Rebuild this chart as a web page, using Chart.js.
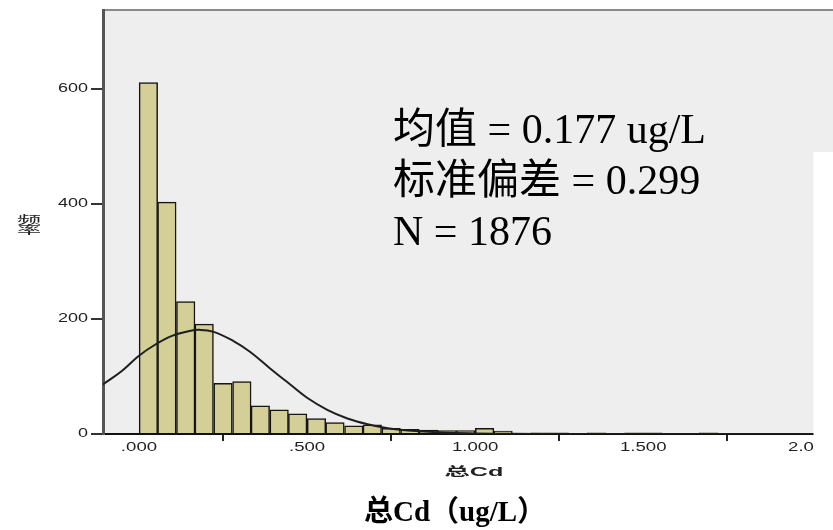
<!DOCTYPE html>
<html>
<head>
<meta charset="utf-8">
<script src="https://cdn.jsdelivr.net/npm/chart.js@4/dist/chart.umd.min.js"></script>
<style>
  html, body { margin: 0; padding: 0; background: #fff; overflow: hidden; }
  #wrap { position: relative; width: 833px; height: 530px; overflow: hidden; }
  canvas { position: absolute; left: 0; top: 0; }
</style>
</head>
<body>
<div id="wrap"><canvas id="chart" width="870" height="530"></canvas></div>
<script>
// ===== Data =====
const binCenters = [0.028, 0.083, 0.139, 0.194, 0.250, 0.306, 0.361, 0.417, 0.472, 0.528,
                    0.583, 0.639, 0.694, 0.750, 0.806, 0.861, 0.917, 0.972, 1.028, 1.083,
                    1.139, 1.194, 1.250, 1.306, 1.361, 1.417, 1.472, 1.528, 1.583, 1.639, 1.694];
const counts     = [611, 403, 230, 191, 88, 91, 49, 42, 35, 27,
                    20, 14, 16, 10, 8, 7, 6, 6, 10, 5,
                    0, 2, 2, 0, 2, 0, 2, 2, 0, 0, 2];

// normal curve
const curveX = [-0.11, -0.05, 0, 0.05, 0.10, 0.15, 0.18, 0.22, 0.28, 0.33, 0.39, 0.45,
                0.50, 0.56, 0.62, 0.68, 0.74, 0.80, 0.90, 1.00, 1.10, 1.30, 2.10];
const curveY = [85, 110, 136, 156, 171, 179, 181, 178, 162, 143, 114, 86,
                63, 42, 27, 17, 10, 6, 2.5, 1, 0.3, 0, 0];

const xTicks      = [0, 0.5, 1, 1.5, 2];
const xTickLabels = ['.000', '.500', '1.000', '1.500', '2.000'];
const yTicks      = [0, 200, 400, 600];
const yTickLabels = ['0', '200', '400', '600'];

const statLines = ['均值 = 0.177 ug/L', '标准偏差 = 0.299', 'N = 1876'];

// ===== Helpers =====
function stretchText(ctx, text, x, y, sx, align) {
  ctx.save();
  ctx.translate(x, y);
  ctx.scale(sx, 1);
  ctx.textAlign = align;
  ctx.fillText(text, 0, 0);
  ctx.restore();
}

// ===== Plugin: background, labels, annotations =====
const decor = {
  id: 'decor',
  beforeDraw(chart) {
    const { ctx, chartArea: a } = chart;
    ctx.save();
    ctx.fillStyle = '#eeeeee';
    ctx.fillRect(a.left, a.top, chart.width - a.left, a.bottom - a.top);
    ctx.strokeStyle = '#8a8a8a';
    ctx.lineWidth = 2;
    ctx.beginPath();
    ctx.moveTo(a.left - 1, a.top);
    ctx.lineTo(chart.width, a.top);
    ctx.stroke();
    ctx.restore();
  },
  afterDraw(chart) {
    const { ctx, chartArea: a } = chart;
    const xs = chart.scales.x, ys = chart.scales.y;
    ctx.save();
    ctx.fillStyle = '#222';
    ctx.textBaseline = 'middle';

    // tick labels (SPSS output is stretched sideways)
    ctx.font = '12px "Liberation Sans", Arial, sans-serif';
    yTicks.forEach((v, i) => stretchText(ctx, yTickLabels[i], 88, ys.getPixelForValue(v), 1.5, 'right'));
    xTicks.forEach((v, i) => stretchText(ctx, xTickLabels[i], xs.getPixelForValue(v), 448, 1.55, 'center'));

    // axis titles
    ctx.font = 'bold 12px "Liberation Sans", "Noto Sans CJK SC", sans-serif';
    stretchText(ctx, '总Cd', (a.left + a.right) / 2, 473, 2.1, 'center');
    ctx.font = '11px "Noto Sans CJK SC", sans-serif';
    stretchText(ctx, '频', 29, 220, 2.2, 'center');
    stretchText(ctx, '率', 29, 230, 2.2, 'center');

    // stats box
    ctx.fillStyle = '#000';
    ctx.textBaseline = 'alphabetic';
    ctx.textAlign = 'left';
    ctx.font = '42px "Liberation Serif", "Noto Sans CJK SC", serif';
    statLines.forEach((t, i) => ctx.fillText(t, 393, 143 + i * 51));

    // cropped-off right part of the original figure
    ctx.fillStyle = '#fff';
    ctx.fillRect(813.5, 152, chart.width, chart.height);

    // figure caption
    ctx.fillStyle = '#000';
    ctx.textAlign = 'center';
    ctx.font = 'bold 29px "Liberation Serif", "Noto Sans CJK SC", serif';
    ctx.fillText('总Cd（ug/L）', 455, 521);
    ctx.restore();
  }
};

// ===== Chart =====
new Chart(document.getElementById('chart'), {
  type: 'bar',
  data: {
    datasets: [
      {
        type: 'line',
        data: curveX.map((x, i) => ({ x, y: curveY[i] })),
        borderColor: '#1e1e1e',
        borderWidth: 2,
        pointRadius: 0,
        fill: false,
        tension: 0.4,
        order: 0,
      },
      {
        type: 'bar',
        data: binCenters.map((x, i) => ({ x, y: counts[i] })),
        backgroundColor: '#d3cf96',
        borderColor: '#151515',
        borderWidth: 1.5,
        barPercentage: 1,
        categoryPercentage: 1,
        order: 1,
      },
    ],
  },
  options: {
    responsive: false,
    animation: false,
    layout: { padding: { left: 91, top: 10, right: 25, bottom: 89 } },
    plugins: { legend: { display: false }, tooltip: { enabled: false } },
    scales: {
      x: {
        type: 'linear',
        min: -0.107,
        max: 2.1,
        offset: false,
        afterBuildTicks: s => { s.ticks = xTicks.map(value => ({ value })); },
        ticks: { display: false },
        grid: { display: true, drawOnChartArea: false, drawTicks: true, tickLength: 7, color: '#222', lineWidth: 2 },
        border: { display: true, color: '#111', width: 2 },
      },
      y: {
        min: 0,
        max: 737,
        afterBuildTicks: s => { s.ticks = yTicks.map(value => ({ value })); },
        ticks: { display: false },
        grid: { display: true, drawOnChartArea: false, drawTicks: true, tickLength: 12, color: '#333', lineWidth: 2 },
        border: { display: true, color: '#555', width: 3 },
      },
    },
  },
  plugins: [decor],
});
</script>
</body>
</html>
